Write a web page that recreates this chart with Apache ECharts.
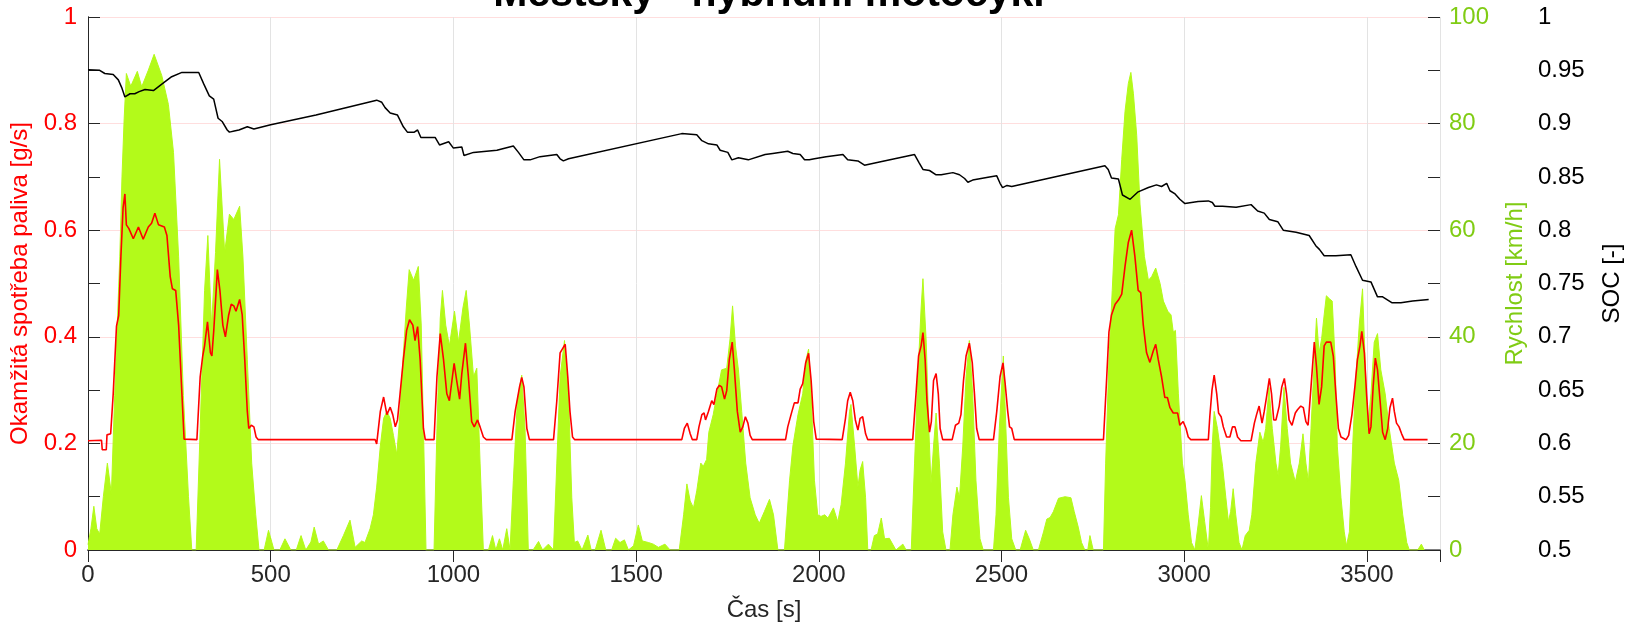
<!DOCTYPE html>
<html>
<head>
<meta charset="utf-8">
<script src="https://cdn.jsdelivr.net/npm/echarts@6/dist/echarts.min.js"></script>
<style>
  html, body { margin: 0; padding: 0; background: #fff; }
  #chart { width: 1635px; height: 630px; }
</style>
</head>
<body>
<div id="chart"></div>
<script>
// Rychlost vozidla [km/h] v čase [s]
const speedPts = [
  [0,1],[8,4],[16,8.2],[24,4],[32,3],[42,10],[53,16.3],[64,10.5],[73,29],[80,42],[87,55],[93,70],[99,81],[105,89.4],
  [117,87],[135,89.8],[147,86.9],[165,90],[181,93],[202,89],[220,83.6],[234,74.6],[248,55],[261,29],[275,10],[284,0],
  [296,0],[307,22.8],[319,48.7],[328,59],[338,42],[349,55.8],[360,73.3],[374,55.8],[387,63],[399,62],[415,64.5],[424,55],
  [436,35.7],[448,16.3],[459,6.6],[468,0],[482,0],[494,3.7],[509,0],[525,0],[539,2.1],[555,0],[570,0],[583,2.7],[596,0],
  [610,1.5],[619,4.3],[631,1.1],[644,1.7],[658,0],[681,0],[699,2.7],[717,5.6],[731,0.5],[749,1.7],[758,1.4],[772,4],
  [781,6.6],[790,11.8],[800,19.5],[809,24.7],[818,26],[827,24.7],[836,21.5],[845,17.9],[852,24],[862,35.7],[871,45.4],
  [879,52.6],[891,50.6],[904,53.2],[912,42.2],[918,22.8],[925,0],[947,0],[955,22.8],[964,43.5],[970,48.7],[979,42.2],
  [989,38.3],[1003,44.8],[1014,39],[1026,45.4],[1035,48.7],[1044,42.2],[1055,32.5],[1064,34.1],[1073,16.3],[1082,0],
  [1096,0],[1107,2.7],[1116,0],[1126,2.1],[1135,0],[1146,4],[1155,0],[1164,13],[1175,28],[1187,32.8],[1196,22.8],[1205,0],
  [1218,0],[1233,1.6],[1244,0],[1260,1.1],[1274,0],[1283,16.3],[1292,32.5],[1304,39.3],[1315,29.3],[1324,9.8],[1331,1.4],
  [1340,1.7],[1352,0],[1368,2.8],[1377,0],[1388,0],[1404,3.7],[1417,0],[1433,0],[1444,2.2],[1456,1.4],[1468,1.9],[1479,0],
  [1493,0.8],[1506,4.7],[1517,1.7],[1534,1.4],[1547,1.1],[1561,0.5],[1579,1.1],[1593,0],[1618,0],[1630,6.6],[1639,12.4],
  [1648,9.2],[1657,7.9],[1666,11.1],[1677,16.3],[1684,15.7],[1693,17],[1699,22.1],[1711,25.4],[1723,29.9],[1734,33.8],
  [1748,34.1],[1757,39.6],[1764,45.8],[1772,38.3],[1780,33.8],[1789,26],[1800,16.3],[1812,9.8],[1826,6.6],[1837,5],
  [1851,7.2],[1865,9.5],[1876,6.6],[1888,0],[1906,0],[1920,13.1],[1929,19.5],[1943,25.4],[1956,29.3],[1965,35.7],[1972,37.7],
  [1979,29.3],[1988,13.1],[1997,6.6],[2006,6.3],[2016,6.6],[2025,6],[2040,7.9],[2052,5.3],[2061,8.5],[2073,16.3],[2084,26],
  [2088,27.3],[2098,19.5],[2107,11.8],[2113,15],[2120,16.6],[2128,9.8],[2134,0],[2143,0],[2152,2.7],[2161,3],[2171,6],
  [2180,2.1],[2193,2.2],[2211,0],[2230,1.1],[2239,0],[2253,0],[2262,16.3],[2271,32.5],[2280,45.4],[2285,50.9],[2294,39],
  [2301,22.8],[2307,12.4],[2314,19.5],[2321,25.7],[2330,16.3],[2339,3.4],[2348,0],[2359,0],[2367,6.6],[2378,11.8],[2385,9.8],
  [2394,19.5],[2403,32.5],[2412,39.3],[2421,29.3],[2430,13.1],[2441,2.1],[2450,0],[2478,0],[2485,6.6],[2494,22.8],[2505,36.4],
  [2512,22.8],[2519,9.8],[2528,2.1],[2539,0],[2551,0],[2566,3.7],[2576,2.1],[2587,0],[2601,0],[2615,3.4],[2624,5.8],[2633,6.1],
  [2642,7.2],[2656,9.7],[2674,10],[2690,9.8],[2699,7.2],[2710,4.3],[2719,1.4],[2728,0],[2736,0],[2742,2.7],[2751,0],[2779,0],
  [2785,16.3],[2794,35.7],[2803,48.7],[2811,60.3],[2820,62.9],[2829,73.3],[2838,82.3],[2847,87.5],[2854,89.6],[2861,85.6],
  [2870,77.8],[2879,64.9],[2891,55.1],[2902,50.6],[2911,51.3],[2922,52.9],[2934,50],[2943,46.7],[2955,44.8],[2964,44.1],
  [2970,40.9],[2976,41.2],[2984,29.3],[2995,16.3],[3002,13.1],[3011,6.6],[3020,1.4],[3029,0],[3038,4.7],[3047,10.2],[3056,5.3],
  [3066,0],[3072,8],[3077,20],[3082,26],[3091,22.8],[3105,15.7],[3114,9.8],[3121,5.3],[3127,7.2],[3134,11.5],[3141,6.6],
  [3150,1.4],[3158,0],[3167,2.7],[3178,3.7],[3185,6.6],[3196,16.3],[3207,22.1],[3216,20.2],[3223,22.8],[3232,30.5],[3241,22.8],
  [3251,16.3],[3257,14],[3264,19.5],[3273,30.5],[3282,22.8],[3291,16.3],[3304,12.8],[3315,16.3],[3325,21.8],[3333,16.3],
  [3340,12.8],[3347,22.8],[3356,35.7],[3362,43.5],[3369,37],[3376,39.6],[3383,44.1],[3389,47.7],[3398,47.1],[3405,46.7],
  [3413,35.7],[3419,19.5],[3429,9.8],[3438,3.4],[3444,0.8],[3452,3.4],[3461,19.5],[3470,32.5],[3479,42.2],[3488,49],
  [3495,35.7],[3502,22.8],[3511,29.3],[3520,39],[3529,40.6],[3538,33.8],[3550,29.3],[3561,22.8],[3575,16.3],[3587,13.1],
  [3598,6.6],[3609,1.4],[3616,0],[3639,0],[3649,1.1],[3657,0]
];

// Okamžitá spotřeba paliva [g/s] v čase [s]
const fuelPts = [
  [0,0.205],[37,0.206],[39,0.188],[50,0.188],[52,0.216],[62,0.218],[69,0.293],[78,0.42],[84,0.44],[90,0.55],[96,0.642],
  [101,0.668],[105,0.61],[112,0.603],[124,0.584],[138,0.606],[151,0.583],[165,0.606],[174,0.613],[183,0.632],[193,0.61],
  [209,0.606],[216,0.59],[225,0.513],[231,0.49],[240,0.487],[248,0.422],[257,0.293],[263,0.208],[298,0.207],[307,0.325],
  [314,0.364],[319,0.383],[327,0.428],[335,0.37],[339,0.364],[344,0.41],[349,0.467],[354,0.526],[361,0.487],[369,0.422],
  [376,0.4],[385,0.441],[392,0.461],[399,0.458],[405,0.448],[415,0.47],[422,0.441],[429,0.357],[436,0.26],[440,0.228],
  [447,0.234],[454,0.231],[460,0.212],[466,0.207],[786,0.207],[790,0.199],[800,0.26],[809,0.287],[818,0.254],[827,0.268],
  [834,0.254],[841,0.231],[847,0.244],[854,0.293],[863,0.357],[872,0.412],[880,0.432],[889,0.422],[895,0.393],[902,0.419],
  [909,0.357],[918,0.228],[923,0.207],[947,0.207],[955,0.325],[964,0.406],[973,0.357],[982,0.293],[989,0.28],[996,0.318],
  [1002,0.35],[1009,0.318],[1017,0.283],[1023,0.331],[1033,0.388],[1041,0.325],[1050,0.241],[1057,0.231],[1066,0.244],
  [1073,0.231],[1082,0.212],[1090,0.207],[1160,0.207],[1169,0.26],[1181,0.306],[1187,0.324],[1193,0.306],[1201,0.228],
  [1208,0.207],[1274,0.207],[1283,0.28],[1292,0.37],[1298,0.377],[1306,0.386],[1313,0.325],[1319,0.26],[1326,0.212],
  [1332,0.207],[1625,0.207],[1632,0.228],[1640,0.238],[1648,0.218],[1654,0.207],[1666,0.207],[1672,0.231],[1680,0.254],
  [1686,0.257],[1690,0.244],[1698,0.26],[1707,0.28],[1713,0.273],[1721,0.302],[1728,0.309],[1734,0.306],[1742,0.283],
  [1748,0.299],[1755,0.357],[1763,0.39],[1769,0.338],[1777,0.26],[1785,0.221],[1792,0.231],[1799,0.25],[1806,0.238],
  [1812,0.215],[1818,0.207],[1909,0.207],[1915,0.231],[1924,0.254],[1933,0.276],[1943,0.276],[1949,0.302],[1956,0.312],
  [1964,0.351],[1972,0.369],[1979,0.318],[1986,0.241],[1993,0.208],[2064,0.207],[2073,0.247],[2079,0.28],[2086,0.296],
  [2093,0.28],[2100,0.244],[2107,0.225],[2113,0.247],[2120,0.25],[2128,0.218],[2134,0.207],[2257,0.207],[2266,0.293],
  [2273,0.364],[2280,0.383],[2285,0.408],[2291,0.357],[2296,0.28],[2303,0.221],[2308,0.241],[2314,0.318],[2321,0.331],
  [2327,0.293],[2332,0.228],[2339,0.207],[2365,0.207],[2374,0.234],[2383,0.238],[2389,0.254],[2396,0.318],[2403,0.364],
  [2412,0.388],[2420,0.351],[2426,0.293],[2432,0.228],[2439,0.207],[2478,0.207],[2487,0.26],[2496,0.325],[2504,0.351],
  [2510,0.312],[2517,0.26],[2522,0.231],[2528,0.228],[2535,0.207],[2779,0.207],[2788,0.325],[2794,0.409],[2801,0.441],
  [2811,0.461],[2820,0.469],[2829,0.48],[2838,0.532],[2847,0.577],[2856,0.6],[2865,0.551],[2874,0.487],[2881,0.483],
  [2888,0.422],[2897,0.37],[2906,0.352],[2915,0.373],[2922,0.386],[2929,0.357],[2938,0.325],[2947,0.286],[2954,0.286],
  [2961,0.267],[2970,0.257],[2982,0.257],[2988,0.234],[2997,0.241],[3005,0.228],[3011,0.212],[3018,0.207],[3066,0.207],
  [3070,0.25],[3076,0.3],[3082,0.328],[3089,0.293],[3094,0.257],[3101,0.25],[3107,0.231],[3116,0.212],[3125,0.212],
  [3132,0.231],[3139,0.231],[3146,0.212],[3155,0.205],[3183,0.205],[3192,0.238],[3198,0.254],[3205,0.27],[3213,0.238],
  [3219,0.26],[3225,0.286],[3233,0.322],[3239,0.293],[3245,0.244],[3251,0.244],[3260,0.27],[3267,0.306],[3274,0.322],
  [3280,0.293],[3287,0.244],[3295,0.234],[3304,0.257],[3310,0.263],[3319,0.27],[3326,0.267],[3333,0.241],[3339,0.234],
  [3347,0.306],[3356,0.39],[3362,0.344],[3369,0.273],[3376,0.306],[3383,0.383],[3389,0.39],[3401,0.39],[3408,0.364],
  [3415,0.293],[3422,0.228],[3429,0.212],[3443,0.207],[3450,0.215],[3459,0.254],[3467,0.306],[3474,0.357],[3481,0.383],
  [3486,0.41],[3493,0.37],[3499,0.293],[3506,0.218],[3511,0.231],[3517,0.306],[3523,0.36],[3529,0.338],[3536,0.28],
  [3543,0.221],[3550,0.207],[3557,0.228],[3563,0.267],[3570,0.285],[3575,0.26],[3581,0.238],[3588,0.231],[3595,0.218],
  [3602,0.207],[3666,0.207]
];

// Stav nabití baterie SOC [-] v čase [s]
const socPts = [
  [0,0.9505],[32,0.95],[46,0.947],[69,0.946],[83,0.941],[92,0.934],[101,0.925],[115,0.928],[128,0.928],[140,0.930],
  [156,0.932],[179,0.931],[202,0.937],[229,0.944],[257,0.948],[303,0.948],[317,0.937],[332,0.926],[344,0.923],[356,0.905],
  [367,0.902],[381,0.894],[387,0.892],[400,0.893],[413,0.894],[436,0.897],[454,0.895],[500,0.899],[624,0.908],[790,0.922],
  [804,0.92],[813,0.915],[827,0.91],[847,0.908],[863,0.897],[874,0.892],[893,0.892],[902,0.894],[911,0.887],[950,0.887],
  [962,0.88],[987,0.883],[1000,0.877],[1023,0.878],[1029,0.87],[1055,0.873],[1119,0.875],[1164,0.879],[1178,0.873],
  [1193,0.866],[1210,0.866],[1237,0.869],[1283,0.871],[1292,0.867],[1301,0.865],[1315,0.867],[1625,0.8906],[1666,0.8896],
  [1680,0.884],[1698,0.881],[1721,0.88],[1730,0.875],[1751,0.873],[1762,0.866],[1780,0.868],[1807,0.866],[1853,0.871],
  [1874,0.872],[1915,0.874],[1929,0.872],[1949,0.871],[1961,0.866],[1974,0.866],[1988,0.867],[2020,0.869],[2066,0.871],
  [2079,0.866],[2107,0.865],[2125,0.861],[2166,0.864],[2262,0.871],[2275,0.863],[2285,0.857],[2303,0.856],[2321,0.852],
  [2335,0.852],[2367,0.854],[2385,0.852],[2399,0.8485],[2408,0.845],[2421,0.847],[2467,0.85],[2487,0.851],[2496,0.844],
  [2503,0.84],[2515,0.842],[2528,0.841],[2783,0.8605],[2792,0.857],[2801,0.849],[2820,0.848],[2831,0.833],[2852,0.829],
  [2874,0.836],[2902,0.840],[2924,0.8425],[2938,0.841],[2952,0.844],[2961,0.837],[2975,0.834],[2988,0.829],[3002,0.825],
  [3038,0.827],[3066,0.8275],[3077,0.826],[3084,0.8225],[3105,0.8225],[3142,0.8215],[3183,0.824],[3201,0.818],[3219,0.816],
  [3233,0.81],[3256,0.808],[3271,0.8],[3306,0.798],[3342,0.795],[3360,0.7855],[3370,0.782],[3383,0.776],[3415,0.776],
  [3456,0.777],[3470,0.766],[3488,0.753],[3511,0.7515],[3529,0.7375],[3543,0.7375],[3568,0.732],[3593,0.732],[3625,0.7335],
  [3669,0.735]
];

const titleText = 'Městský - hybridní motocykl';
const xName = 'Čas [s]';
const fuelName = 'Okamžitá spotřeba paliva [g/s]';
const speedName = 'Rychlost [km/h]';
const socName = 'SOC [-]';

const FONT = '"Liberation Sans", Arial, Helvetica, sans-serif';
const FS = 24;
const GREEN_FILL = '#b3fa1a';
const GREEN_TEXT = '#80cc14';
const INK = '#262626';

const chart = echarts.init(document.getElementById('chart'), null, { renderer: 'canvas' });

// axis that only draws inward tick marks (no line, no labels)
const tickOnly = (position, min, max, interval) => ({
  type: 'value', position, min, max, interval,
  axisLine: { show: false },
  axisTick: { show: true, inside: true, length: 12, lineStyle: { color: INK, width: 1 } },
  axisLabel: { show: false },
  splitLine: { show: false }
});

const plain = v => String(+v.toFixed(4));

chart.setOption({
  animation: false,
  backgroundColor: '#ffffff',
  title: {
    text: titleText,
    left: 764,
    textAlign: 'center',
    top: -31,
    textStyle: { fontFamily: FONT, fontSize: 41, fontWeight: 'bold', color: '#000' }
  },
  grid: { left: 88, right: 195, top: 17, bottom: 80, containLabel: false },
  xAxis: [
    {
      type: 'value', position: 'bottom', min: 0, max: 3700, interval: 500,
      axisLine: { show: true, lineStyle: { color: '#808080', width: 2 } },
      axisTick: { show: true, inside: true, length: 12, lineStyle: { color: INK } },
      axisLabel: { color: INK, fontFamily: FONT, fontSize: FS, margin: 13, showMaxLabel: false, formatter: plain },
      splitLine: { show: true, lineStyle: { color: '#e3e3e3', width: 1 } },
      name: xName, nameLocation: 'middle', nameGap: 48,
      nameTextStyle: { color: INK, fontFamily: FONT, fontSize: FS }
    },
    {
      type: 'value', position: 'top', min: 0, max: 3700, interval: 500,
      axisLine: { show: true, lineStyle: { color: INK, width: 1 } },
      axisTick: { show: true, inside: true, length: 12, lineStyle: { color: INK } },
      axisLabel: { show: false },
      splitLine: { show: false }
    }
  ],
  yAxis: [
    {
      type: 'value', position: 'left', min: 0, max: 1, interval: 0.2,
      axisLine: { show: true, lineStyle: { color: INK, width: 1 } },
      axisTick: { show: false },
      axisLabel: { color: '#ff0000', fontFamily: FONT, fontSize: FS, margin: 11, formatter: plain },
      splitLine: { show: true, lineStyle: { color: '#ffdede', width: 1 } },
      name: fuelName, nameLocation: 'middle', nameGap: 51,
      nameTextStyle: { color: '#ff0000', fontFamily: FONT, fontSize: FS }
    },
    {
      type: 'value', position: 'right', min: 0, max: 100, interval: 20,
      axisLine: { show: true, lineStyle: { color: INK, width: 1 } },
      axisTick: { show: false },
      axisLabel: { color: GREEN_TEXT, fontFamily: FONT, fontSize: FS, margin: 9, formatter: plain },
      splitLine: { show: false },
      name: speedName, nameLocation: 'middle', nameGap: 63,
      nameTextStyle: { color: GREEN_TEXT, fontFamily: FONT, fontSize: FS }
    },
    {
      type: 'value', position: 'right', offset: 90, min: 0.5, max: 1, interval: 0.05,
      axisLine: { show: false },
      axisTick: { show: false },
      axisLabel: { color: '#000', fontFamily: FONT, fontSize: FS, margin: 8, formatter: plain },
      splitLine: { show: false },
      name: socName, nameLocation: 'middle', nameGap: 70,
      nameTextStyle: { color: '#000', fontFamily: FONT, fontSize: FS }
    },
    tickOnly('left', 0, 1, 0.1),
    tickOnly('right', 0, 1, 0.1)
  ],
  series: [
    {
      name: speedName, type: 'line', xAxisIndex: 0, yAxisIndex: 1, data: speedPts,
      showSymbol: false, smooth: false, z: 1,
      lineStyle: { color: GREEN_FILL, width: 1 },
      areaStyle: { color: GREEN_FILL, opacity: 1 }
    },
    {
      name: fuelName, type: 'line', xAxisIndex: 0, yAxisIndex: 0, data: fuelPts,
      showSymbol: false, smooth: false, z: 3,
      lineStyle: { color: '#ff0000', width: 1.6 }
    },
    {
      name: socName, type: 'line', xAxisIndex: 0, yAxisIndex: 2, data: socPts,
      showSymbol: false, smooth: false, z: 4,
      lineStyle: { color: '#000000', width: 1.5 }
    }
  ]
});
</script>
</body>
</html>
